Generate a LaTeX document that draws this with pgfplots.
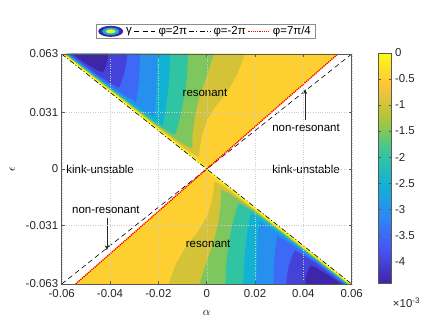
\documentclass[border=0pt]{standalone}
\usepackage{fontspec}
\setmainfont{Liberation Sans}
\usepackage{pgfplots}
\usepackage{pgfplotstable}
\pgfplotsset{compat=1.18}
\usetikzlibrary{arrows.meta}
\newcommand\fs{\fontsize{11.5}{13}\selectfont}

\definecolor{cY}{rgb}{0.9769,0.9839,0.0805}
\definecolor{cA}{rgb}{0.993,0.810,0.192}
\definecolor{cB}{rgb}{0.830,0.760,0.215}
\definecolor{cC}{rgb}{0.494,0.781,0.367}
\definecolor{cD}{rgb}{0.189,0.768,0.637}
\definecolor{cE}{rgb}{0.072,0.697,0.833}
\definecolor{cF}{rgb}{0.154,0.566,0.939}
\definecolor{cG}{rgb}{0.237,0.412,0.962}
\definecolor{cH}{rgb}{0.267,0.260,0.850}
\definecolor{cI}{rgb}{0.2422,0.1504,0.6603}

% upper resonant wedge and its nested level regions gamma<level (lower wedge is the point mirror)
\pgfplotstableread{
x y
-0.06 0.063
0.0542 0.063
0 0
}\RegW
\pgfplotstableread{
x y
-0.05896 0.063
0.05337 0.063
0.00004 0.00104
}\RegZ
\pgfplotstableread{
x y
-0.05879 0.063
0.01585 0.063
0.01254 0.05151
0.00840 0.04219
0.00343 0.03397
0.00012 0.02685
-0.00194 0.01863
-0.00298 0.01041
-0.00314 0.00696
-0.00468 0.00767
-0.00683 0.00932
-0.01508 0.01753
}\RegA
\pgfplotstableread{
x y
-0.05859 0.063
0.00302 0.063
0.00012 0.05151
-0.00277 0.04055
-0.00484 0.02959
-0.00588 0.01863
-0.00600 0.01123
-0.00910 0.01315
-0.01407 0.01753
-0.01988 0.02301
}\RegB
\pgfplotstableread{
x y
-0.05836 0.063
-0.00774 0.063
-0.00809 0.05164
-0.00914 0.04027
-0.01092 0.02890
-0.01221 0.02247
-0.01307 0.01885
-0.01374 0.01918
-0.01545 0.02027
-0.01887 0.02301
-0.02321 0.02685
-0.03136 0.03507
}\RegC
\pgfplotstableread{
x y
-0.05809 0.063
-0.01518 0.063
-0.01539 0.05301
-0.01597 0.04301
-0.01696 0.03301
-0.01779 0.02685
-0.01825 0.02384
-0.01903 0.02466
-0.02222 0.02685
-0.03074 0.03507
-0.03893 0.04329
}\RegD
\pgfplotstableread{
x y
-0.05776 0.063
-0.02056 0.063
-0.02065 0.05397
-0.02085 0.04493
-0.02122 0.03589
-0.02156 0.03069
-0.02172 0.02822
-0.02226 0.02904
-0.02536 0.03123
-0.02975 0.03507
-0.03835 0.04329
-0.04609 0.05096
}\RegE
\pgfplotstableread{
x y
-0.05734 0.063
-0.02760 0.063
-0.02772 0.05603
-0.02803 0.04904
-0.02859 0.04205
-0.02900 0.03836
-0.02929 0.03638
-0.02983 0.03726
-0.03293 0.03945
-0.03736 0.04329
-0.04547 0.05096
}\RegF
\pgfplotstableread{
x y
-0.05672 0.063
-0.03298 0.063
-0.03322 0.05808
-0.03395 0.05315
-0.03517 0.04822
-0.03612 0.04521
-0.03645 0.04460
-0.03988 0.04712
-0.04448 0.05096
-0.05064 0.05699
}\RegG
\pgfplotstableread{
x y
-0.05565 0.063
-0.04084 0.063
-0.04100 0.06000
-0.04158 0.05699
-0.04241 0.05425
-0.04307 0.05288
-0.04547 0.05425
-0.04895 0.05699
-0.05209 0.05973
}\RegH

\pgfplotsset{
  up/.style={draw=none, fill=#1, forget plot},
  dn/.style={draw=none, fill=#1, forget plot},
}

\begin{document}
\begin{tikzpicture}
\useasboundingbox (-61.7bp,-38bp) rectangle (374.3bp,284bp);
\begin{axis}[
  at={(0,0)}, anchor=south west,
  scale only axis, width=290bp, height=230bp,
  font=\fs,
  xmin=-0.06, xmax=0.06, ymin=-0.063, ymax=0.063,
  xtick={-0.06,-0.04,-0.02,0,0.02,0.04,0.06},
  xticklabels={-0.06,-0.04,-0.02,0,0.02,0.04,0.06},
  ytick={-0.063,-0.031,0,0.031,0.063},
  yticklabels={-0.063,-0.031,0,0.031,0.063},
  scaled ticks=false,
  axis on top,
  grid=major, grid style={dotted, black!20, line width=0.35pt},
  axis line style={black!65, line width=0.5pt},
  tick style={black!65, line width=0.5pt},
  major tick length=3bp,
  ticklabel style={font=\fs, text=black!85},
  xticklabel style={yshift=-1.5bp},
  xlabel={$\alpha$}, ylabel={$\epsilon$},
  xlabel style={at={(axis description cs:0.5,-0.126)}, anchor=center, font=\fs},
  ylabel style={at={(axis description cs:-0.17,0.5)}, anchor=center, font=\fs},
  colormap={parula}{rgb=(0.2422,0.1504,0.6603) rgb=(0.2810,0.3228,0.9579) rgb=(0.1786,0.5289,0.9682) rgb=(0.0689,0.6948,0.8394) rgb=(0.2161,0.7843,0.5923) rgb=(0.6720,0.7793,0.2227) rgb=(0.9970,0.7659,0.2199) rgb=(0.9769,0.9839,0.0805)},
  point meta min=-4.42, point meta max=0,
  colorbar,
  colorbar style={
    at={(parent axis.north east)}, anchor=north west, xshift=18.3bp, yshift=1bp,
    scale only axis, width=13bp, height=230bp,
    ytick={-4,-3.5,-3,-2.5,-2,-1.5,-1,-0.5,0},
    yticklabels={-4,-3.5,-3,-2.5,-2,-1.5,-1,-0.5,0},
    yticklabel style={font=\fs, text=black!85},
    axis line style={black!65, line width=0.5pt},
    tick style={black!65, line width=0.5pt},
    major tick length=2.5bp,
    after end axis/.code={\node[font=\fs, text=black!85] at (rel axis cs:1,0) [anchor=center, xshift=15bp, yshift=-20bp] {×10\textsuperscript{-3}};},
  },
  legend columns=4,
  legend cell align=left,
  legend style={at={(0.496,1)}, anchor=south, yshift=15bp, draw=black!45, line width=0.5pt,
    font=\fs, inner xsep=2bp, inner ysep=0.5bp,
    /tikz/every odd column/.append style={column sep=1bp}},
  legend image code/.code={\draw[#1] (0bp,0bp) -- (21bp,0bp);},
]
% upper wedge
\addplot[draw=none, fill=cY, legend image code/.code={
  \fill[cI] (12bp,0bp) ellipse [x radius=12.5bp, y radius=5.5bp];
  \fill[cE] (12bp,0bp) ellipse [x radius=8.5bp, y radius=3.7bp];
  \fill[cY] (12bp,0bp) ellipse [x radius=4.8bp, y radius=2bp];}] table {\RegW};
\addlegendentry{γ}
\addplot[up=cA] table {\RegZ};
\addplot[up=cB] table {\RegA};
\addplot[up=cC] table {\RegB};
\addplot[up=cD] table {\RegC};
\addplot[up=cE] table {\RegD};
\addplot[up=cF] table {\RegE};
\addplot[up=cG] table {\RegF};
\addplot[up=cH] table {\RegG};
\addplot[up=cI] table {\RegH};
% lower wedge (point mirror)
\addplot[dn=cY] table[x expr=-\thisrow{x}, y expr=-\thisrow{y}] {\RegW};
\addplot[dn=cA] table[x expr=-\thisrow{x}, y expr=-\thisrow{y}] {\RegZ};
\addplot[dn=cB] table[x expr=-\thisrow{x}, y expr=-\thisrow{y}] {\RegA};
\addplot[dn=cC] table[x expr=-\thisrow{x}, y expr=-\thisrow{y}] {\RegB};
\addplot[dn=cD] table[x expr=-\thisrow{x}, y expr=-\thisrow{y}] {\RegC};
\addplot[dn=cE] table[x expr=-\thisrow{x}, y expr=-\thisrow{y}] {\RegD};
\addplot[dn=cF] table[x expr=-\thisrow{x}, y expr=-\thisrow{y}] {\RegE};
\addplot[dn=cG] table[x expr=-\thisrow{x}, y expr=-\thisrow{y}] {\RegF};
\addplot[dn=cH] table[x expr=-\thisrow{x}, y expr=-\thisrow{y}] {\RegG};
\addplot[dn=cI] table[x expr=-\thisrow{x}, y expr=-\thisrow{y}] {\RegH};
% boundary lines
\addplot[black, line width=0.6bp, dash pattern=on 5bp off 3.5bp] coordinates {(-0.06,-0.063) (0.06,0.063)};
\addlegendentry{φ=2π}
\addplot[black, line width=0.6bp, dash pattern=on 5bp off 2.2bp on 1bp off 2.2bp] coordinates {(-0.06,0.063) (0.06,-0.063)};
\addlegendentry{φ=-2π}
\addplot[red, line width=1.4bp, dash pattern=on 1.3bp off 0.8bp,
  legend image code/.code={\draw[red, line width=1.2bp, dash pattern=on 1.3bp off 0.9bp] (0bp,0bp) -- (21bp,0bp);}] coordinates {(-0.0542,-0.063) (0.0542,0.063)};
\addlegendentry{φ=7π/4}
% annotations
\node[font=\fs] at (axis cs:-0.0007,0.0416) {resonant};
\node[font=\fs] at (axis cs:0.0006,-0.0411) {resonant};
\node[font=\fs] at (axis cs:-0.0441,0) {kink-unstable};
\node[font=\fs] at (axis cs:0.0411,0) {kink-unstable};
\node[font=\fs] at (axis cs:0.0411,0.0225) {non-resonant};
\node[font=\fs] at (axis cs:-0.0417,-0.0225) {non-resonant};
\draw[black!85, line width=0.5bp, -{Stealth[length=5bp,width=4bp]}] (axis cs:0.0407,0.0268) -- (axis cs:0.0407,0.0438);
\draw[black!85, line width=0.5bp, -{Stealth[length=5bp,width=4bp]}] (axis cs:-0.0413,-0.0268) -- (axis cs:-0.0413,-0.0445);
\end{axis}
\end{tikzpicture}
\end{document}
